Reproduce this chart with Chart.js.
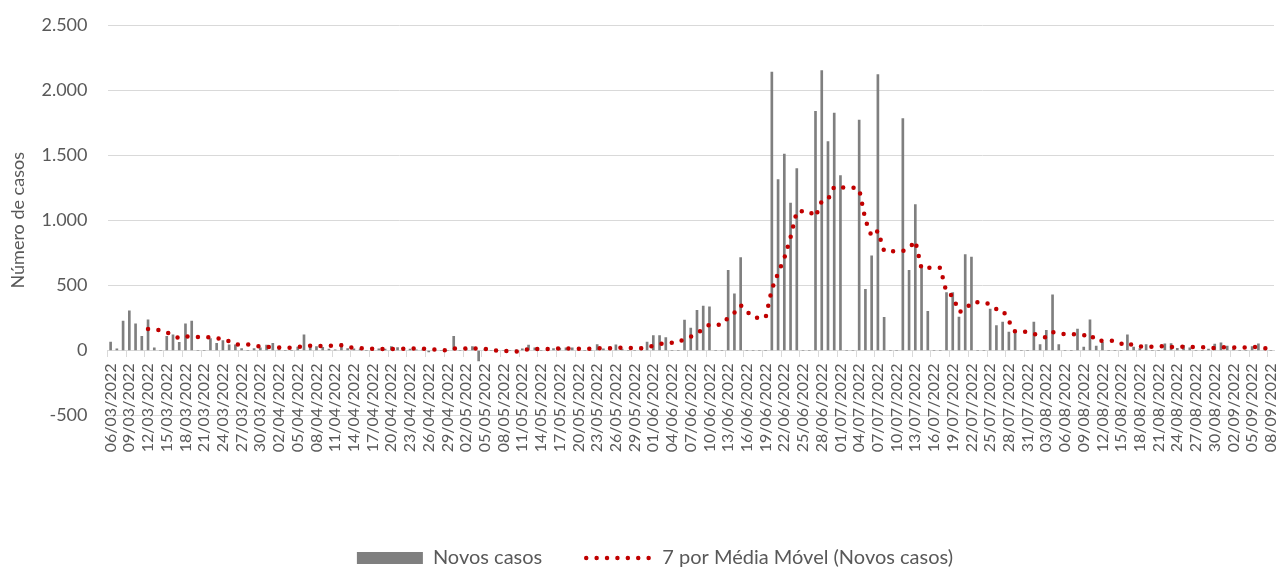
<!DOCTYPE html>
<html>
<head>
<meta charset="utf-8">
<script src="https://cdn.jsdelivr.net/npm/chart.js@4.4.1/dist/chart.umd.min.js"></script>
<style>
  html, body { margin: 0; padding: 0; background: #fff; overflow: hidden; }
  canvas { display: block; }
</style>
</head>
<body>
<canvas id="casesChart" width="1276" height="578"></canvas>
<script>
// daily categories, 06/03/2022 .. 08/09/2022
const dates = [
  '06/03/2022','07/03/2022','08/03/2022','09/03/2022','10/03/2022','11/03/2022','12/03/2022','13/03/2022','14/03/2022','15/03/2022',
  '16/03/2022','17/03/2022','18/03/2022','19/03/2022','20/03/2022','21/03/2022','22/03/2022','23/03/2022','24/03/2022','25/03/2022',
  '26/03/2022','27/03/2022','28/03/2022','29/03/2022','30/03/2022','31/03/2022',
  '01/04/2022','02/04/2022','03/04/2022','04/04/2022','05/04/2022','06/04/2022','07/04/2022','08/04/2022','09/04/2022','10/04/2022',
  '11/04/2022','12/04/2022','13/04/2022','14/04/2022','15/04/2022','16/04/2022','17/04/2022','18/04/2022','19/04/2022','20/04/2022',
  '21/04/2022','22/04/2022','23/04/2022','24/04/2022','25/04/2022','26/04/2022','27/04/2022','28/04/2022','29/04/2022','30/04/2022',
  '01/05/2022','02/05/2022','03/05/2022','04/05/2022','05/05/2022','06/05/2022','07/05/2022','08/05/2022','09/05/2022','10/05/2022',
  '11/05/2022','12/05/2022','13/05/2022','14/05/2022','15/05/2022','16/05/2022','17/05/2022','18/05/2022','19/05/2022','20/05/2022',
  '21/05/2022','22/05/2022','23/05/2022','24/05/2022','25/05/2022','26/05/2022','27/05/2022','28/05/2022','29/05/2022','30/05/2022',
  '31/05/2022',
  '01/06/2022','02/06/2022','03/06/2022','04/06/2022','05/06/2022','06/06/2022','07/06/2022','08/06/2022','09/06/2022','10/06/2022',
  '11/06/2022','12/06/2022','13/06/2022','14/06/2022','15/06/2022','16/06/2022','17/06/2022','18/06/2022','19/06/2022','20/06/2022',
  '21/06/2022','22/06/2022','23/06/2022','24/06/2022','25/06/2022','26/06/2022','27/06/2022','28/06/2022','29/06/2022','30/06/2022',
  '01/07/2022','02/07/2022','03/07/2022','04/07/2022','05/07/2022','06/07/2022','07/07/2022','08/07/2022','09/07/2022','10/07/2022',
  '11/07/2022','12/07/2022','13/07/2022','14/07/2022','15/07/2022','16/07/2022','17/07/2022','18/07/2022','19/07/2022','20/07/2022',
  '21/07/2022','22/07/2022','23/07/2022','24/07/2022','25/07/2022','26/07/2022','27/07/2022','28/07/2022','29/07/2022','30/07/2022',
  '31/07/2022',
  '01/08/2022','02/08/2022','03/08/2022','04/08/2022','05/08/2022','06/08/2022','07/08/2022','08/08/2022','09/08/2022','10/08/2022',
  '11/08/2022','12/08/2022','13/08/2022','14/08/2022','15/08/2022','16/08/2022','17/08/2022','18/08/2022','19/08/2022','20/08/2022',
  '21/08/2022','22/08/2022','23/08/2022','24/08/2022','25/08/2022','26/08/2022','27/08/2022','28/08/2022','29/08/2022','30/08/2022',
  '31/08/2022',
  '01/09/2022','02/09/2022','03/09/2022','04/09/2022','05/09/2022','06/09/2022','07/09/2022','08/09/2022'
];

// new cases per day
const newCases = [
  64, 13, 226, 305, 205, 108, 236, 20, 0, 108,
  120, 62, 205, 226, 0, 0, 92, 56, 77, 44,
  44, 15, 0, 15, 20, 41, 56, 18, 0, 0,
  26, 120, 40, 30, 25, 10, 5, 54, 15, 13,
  10, 0, 0, 12, 10, 31, 23, 15, 10, 5,
  5, -10, 0, 0, 0, 108, 0, 10, 31, -80,
  10, 0, 0, 0, 0, 5, 13, 41, 20, 0,
  0, 15, 18, 20, 20, 18, 0, 0, 46, 12,
  28, 44, 10, 0, 0, 28, 64, 115, 115, 100,
  0, 0, 233, 172, 308, 341, 336, 0, 0, 615,
  436, 713, 0, 0, 0, 0, 2138, 1313, 1508, 1133,
  1397, 0, 0, 1836, 2149, 1605, 1823, 1344, 0, 0,
  1769, 469, 728, 2120, 254, 0, 0, 1782, 615, 1120,
  633, 300, 0, 0, 444, 444, 256, 736, 718, 0,
  0, 318, 192, 218, 141, 141, 0, 0, 218, 46,
  154, 428, 46, 0, 0, 165, 26, 235, 33, 62,
  0, 0, 0, 120, 26, 15, 45, 0, 0, 52,
  54, 16, 39, 21, 0, 0, 10, 49, 59, 33,
  10, 0, 0, 30, 52, 5, 0
];

// 7-day moving average (dotted red trend line)
const movingAvg = [
  null, null, null, null, null, null, 165.3, 159.0, 157.1, 140.3,
  113.9, 93.4, 107.3, 105.9, 103.0, 103.0, 100.7, 91.6, 93.7, 70.7,
  44.7, 46.9, 46.9, 35.9, 30.7, 25.6, 27.3, 23.6, 21.4, 21.4,
  23.0, 37.3, 37.1, 33.4, 34.4, 35.9, 36.6, 40.6, 25.6, 21.7,
  18.9, 15.3, 13.9, 14.9, 8.6, 10.9, 12.3, 13.0, 14.4, 15.1,
  14.1, 11.3, 6.9, 3.6, 1.4, 15.4, 14.7, 15.4, 21.3, 9.9,
  11.3, 11.3, -4.1, -4.1, -5.6, -9.3, 4.0, 8.4, 11.3, 11.3,
  11.3, 13.4, 15.3, 16.3, 13.3, 13.0, 13.0, 13.0, 17.4, 16.6,
  17.7, 21.1, 20.0, 20.0, 20.0, 17.4, 24.9, 37.3, 47.4, 60.3,
  60.3, 60.3, 89.6, 105.0, 132.6, 164.9, 198.6, 198.6, 198.6, 253.1,
  290.9, 348.7, 300.0, 252.0, 252.0, 252.0, 469.6, 594.9, 708.4, 870.3,
  1069.9, 1069.9, 1069.9, 1026.7, 1146.1, 1160.0, 1258.6, 1251.0, 1251.0, 1251.0,
  1241.4, 1001.4, 876.1, 918.6, 762.9, 762.9, 762.9, 764.7, 785.6, 841.6,
  629.1, 635.7, 635.7, 635.7, 444.6, 420.1, 296.7, 311.4, 371.1, 371.1,
  371.1, 353.1, 317.1, 311.7, 226.7, 144.3, 144.3, 144.3, 130.0, 109.1,
  100.0, 141.0, 127.4, 127.4, 127.4, 119.9, 117.0, 128.6, 72.1, 74.4,
  74.4, 74.4, 50.9, 64.3, 34.4, 31.9, 29.4, 29.4, 29.4, 36.9,
  27.4, 26.0, 29.4, 26.0, 26.0, 26.0, 20.0, 19.3, 25.4, 24.6,
  23.0, 23.0, 23.0, 25.9, 26.3, 18.6, 13.9
];

const yTicks = [-500, 0, 500, 1000, 1500, 2000, 2500];

const gridGray = '#d9d9d9';
const textGray = '#595959';
const barGray = '#7f7f7f';
const maRed = '#c00000';
const dotDash = [0, 10.4];

// 2500 -> "2.500"
const fmt = v => String(v).replace(/\B(?=(\d{3})+(?!\d))/g, '.');

Chart.defaults.font.family = 'Lato';
Chart.defaults.color = textGray;

const ctx = document.getElementById('casesChart').getContext('2d');
const casesChart = new Chart(ctx, {
  type: 'bar',
  data: {
    labels: dates,
    datasets: [
      {
        type: 'bar',
        label: 'Novos casos',
        data: newCases,
        backgroundColor: barGray,
        barThickness: 2,
        pointStyle: 'rect',
        order: 1
      },
      {
        type: 'line',
        label: '7 por Média Móvel (Novos casos)',
        data: movingAvg,
        borderColor: maRed,
        backgroundColor: maRed,
        borderWidth: 4.5,
        borderDash: dotDash,
        borderCapStyle: 'round',
        pointRadius: 0,
        pointStyle: 'line',
        tension: 0,
        fill: false,
        order: 0
      }
    ]
  },
  options: {
    responsive: false,
    animation: false,
    devicePixelRatio: 1,
    layout: { padding: { left: 36, right: 2, top: 25, bottom: 0 } },
    plugins: {
      tooltip: { enabled: false },
      legend: {
        position: 'bottom',
        // empty title only used to push the legend row down
        title: { display: true, text: '', font: { size: 10 }, padding: { top: 76.4, bottom: 0 } },
        labels: {
          usePointStyle: true,
          pointStyleWidth: 66,
          boxHeight: 12,
          padding: 44,
          font: { size: 20 },
          color: textGray,
          sort: (a, b) => a.datasetIndex - b.datasetIndex,
          generateLabels: chart => {
            const items = Chart.defaults.plugins.legend.labels.generateLabels(chart);
            items.forEach(it => {
              if (it.datasetIndex === 1) {
                it.pointStyle = 'line';
                it.lineDash = dotDash;
                it.lineCap = 'round';
                it.strokeStyle = maRed;
                it.lineWidth = 4.5;
              } else {
                it.pointStyle = 'rect';
                it.lineWidth = 0;
              }
            });
            return items;
          }
        }
      }
    },
    scales: {
      x: {
        position: { y: 0 },
        grid: {
          drawOnChartArea: false,
          drawTicks: true,
          tickLength: 6,
          tickColor: c => (c.index % 3 === 0 ? gridGray : 'rgba(0,0,0,0)')
        },
        border: { display: true, color: gridGray },
        ticks: {
          autoSkip: false,
          maxRotation: 90,
          minRotation: 90,
          padding: 7,
          font: { size: 16 },
          color: textGray,
          callback: (v, i) => (i % 3 === 0 ? dates[i] : '')
        },
        afterFit: s => { s.paddingLeft = 0; s.paddingRight = 0; }
      },
      y: {
        min: yTicks[0],
        max: yTicks[yTicks.length - 1],
        ticks: {
          stepSize: yTicks[1] - yTicks[0],
          padding: 20,
          font: { size: 18 },
          color: textGray,
          callback: v => fmt(v)
        },
        grid: { color: gridGray, drawTicks: false },
        border: { display: false },
        title: {
          display: true,
          text: 'Número de casos',
          font: { size: 18 },
          color: textGray,
          padding: { top: -28.3, bottom: 0 }
        },
        afterFit: s => { s.width = 71.5; s.paddingTop = 0; s.paddingBottom = 0; }
      }
    }
  }
});
</script>
</body>
</html>
